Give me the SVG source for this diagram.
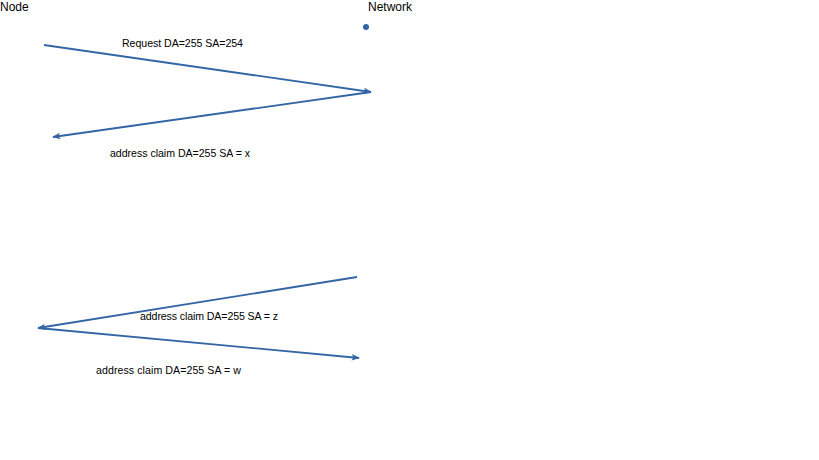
<svg xmlns="http://www.w3.org/2000/svg" width="819" height="460" viewBox="0 0 819 460">
<defs>
<style>
.t{font-family:"Liberation Sans",Arial,sans-serif;font-size:10.6px;fill:#000}
.h{font-family:"Liberation Sans",Arial,sans-serif;font-size:12px;fill:#000}
.c{stroke:#3465a4;stroke-width:1.8;fill:none;marker-end:url(#a)}
</style>
<marker id="a" viewBox="0 0 10 10" refX="9" refY="5" markerWidth="4.5" markerHeight="4.5" orient="auto" markerUnits="strokeWidth">
<path d="M0,1 L10,5 L0,9 L2,5 z" fill="#3465a4"/>
</marker>
</defs>
<rect width="819" height="460" fill="#fff"/>
<g id="node"><text class="h" x="0" y="11">Node</text></g>
<g id="network"><text class="h" x="368" y="11">Network</text><circle cx="366" cy="27" r="3" fill="#3465a4"/></g>
<g id="connectors">
<line class="c" x1="44" y1="45" x2="371" y2="92"/>
<line class="c" x1="371" y1="92" x2="53" y2="137"/>
<line class="c" x1="357" y1="277" x2="38" y2="328"/>
<line class="c" x1="38" y1="328" x2="359" y2="358"/>
</g>
<g id="labels">
<text class="t" x="122" y="47" textLength="121">Request DA=255 SA=254</text>
<text class="t" x="110" y="157" textLength="140">address claim DA=255 SA = x</text>
<text class="t" x="140" y="320" textLength="138">address claim DA=255 SA = z</text>
<text class="t" x="96" y="374" textLength="145">address claim DA=255 SA = w</text>
</g>
</svg>
